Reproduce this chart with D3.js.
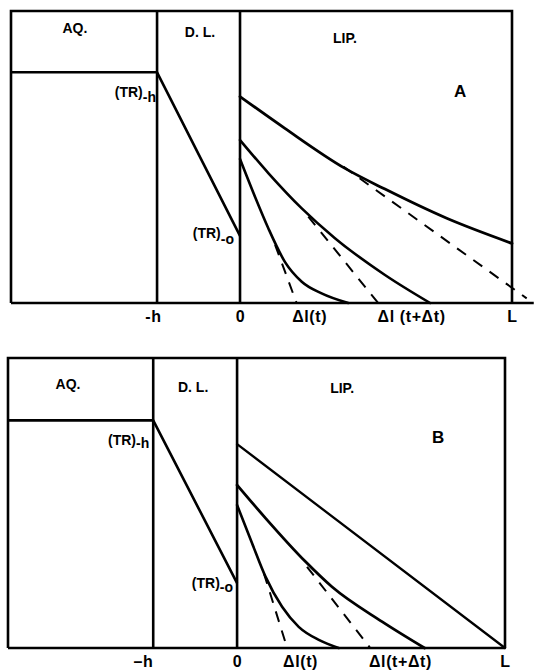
<!DOCTYPE html>
<html>
<head>
<meta charset="utf-8">
<script src="https://cdn.jsdelivr.net/npm/d3@7"></script>
<style>
  html, body { margin: 0; padding: 0; background: #fff; }
  svg { display: block; }
  text { font-family: "Liberation Sans", Arial, Helvetica, sans-serif; font-weight: bold; fill: #000; }
</style>
</head>
<body>
<svg id="chart" width="534" height="672"></svg>
<script>
// Concentration profiles across aqueous phase (AQ.), diffusion layer (D. L.)
// and lipid phase (LIP.). x: depth, 0 = interface, L = membrane thickness (=1).
// y: relative concentration (0 = bottom of frame, 1 = top of frame).

// ---- zone boundaries (x) ----
const zonesA = [-0.842, -0.305, 0, 1];
const zonesB = [-0.855, -0.313, 0, 1];

// ---- aqueous bulk level and diffusion-layer profile ----
const aqLevelA = 0.79,  trZeroA = 0.23;
const aqLevelB = 0.785, trZeroB = 0.224;

// ---- panel A: lipid-phase profiles at three times ----
const a_profile1 = [[0, 0.707], [0.165, 0.598], [0.386, 0.461], [0.533, 0.390], [0.760, 0.290], [1, 0.204]];
const a_profile2 = [[0, 0.558], [0.104, 0.445], [0.227, 0.324], [0.349, 0.222], [0.533, 0.096], [0.699, 0]];
const a_profile3 = [[0, 0.493], [0.055, 0.364], [0.104, 0.256], [0.165, 0.141], [0.227, 0.073], [0.300, 0.033], [0.398, 0]];
// tangents (dashed)
const a_tangent1 = [[0.380, 0.467], [1.054, 0.016]];
const a_tangent2 = [[0.251, 0.296], [0.508, 0]];
const a_tangent3 = [[0.129, 0.199], [0.208, 0]];

// ---- panel B ----
const b_profile1 = [[0, 0.703], [1, 0]];
const b_profile2 = [[0, 0.562], [0.106, 0.448], [0.255, 0.298], [0.354, 0.211], [0.541, 0.091], [0.700, 0]];
const b_profile3 = [[0, 0.493], [0.056, 0.361], [0.106, 0.246], [0.168, 0.142], [0.230, 0.073], [0.305, 0.028], [0.379, 0]];
const b_tangent2 = [[0.261, 0.280], [0.497, 0]];
const b_tangent3 = [[0.100, 0.258], [0.187, 0]];

// ---- axis tick labels ----
const ticksA = [-0.32, 0, 0.254, 0.629, 1.0];
const tickLabelsA = ["-h", "0", "Δl(t)", "Δl (t+Δt)", "L"];
const ticksB = [-0.351, 0, 0.235, 0.608, 1.0];
const tickLabelsB = ["–h", "0", "Δl(t)", "Δl(t+Δt)", "L"];

const svg = d3.select("#chart");

function drawPanel(cfg) {
  const g = svg.append("g");
  const x = d3.scaleLinear().domain([cfg.zones[0], cfg.zones[3]]).range([cfg.left, cfg.right]);
  const y = d3.scaleLinear().domain([0, 1]).range([cfg.bottom, cfg.top]);
  const line = d3.line().x(d => x(d[0])).y(d => y(d[1])).curve(d3.curveMonotoneX);
  const straight = d3.line().x(d => x(d[0])).y(d => y(d[1]));
  const [xl, xh, x0, xL] = cfg.zones;

  const frame = g.append("g").attr("stroke", "#000").attr("stroke-width", 2.6).attr("fill", "none");
  // outer frame
  frame.append("path").attr("d", straight([[xl, 0], [xl, 1], [xL, 1], [xL, 0]]));
  frame.append("path").attr("d", straight([[xl, 0], [cfg.baseEnd, 0]]));
  // zone dividers
  frame.append("path").attr("d", straight([[xh, 0], [xh, 1]]));
  frame.append("path").attr("d", straight([[x0, 0], [x0, 1]]));

  // aqueous level and linear drop across diffusion layer
  const prof = g.append("g").attr("stroke", "#000").attr("fill", "none").attr("stroke-linejoin", "round");
  prof.append("path").attr("stroke-width", 2.6).attr("d", straight([[xl, cfg.aq], [xh, cfg.aq], [x0, cfg.tr0]]));

  cfg.profiles.forEach((p, i) => {
    prof.append("path").attr("stroke-width", cfg.widths[i]).attr("stroke-linecap", "round").attr("d", line(p));
  });
  cfg.tangents.forEach(t => {
    prof.append("path").attr("stroke-width", 2).attr("stroke-dasharray", "11,9").attr("d", straight(t));
  });

  // bottom axis labels
  const axis = d3.axisBottom(x).tickValues(cfg.ticks).tickFormat((d, i) => cfg.tickLabels[i])
    .tickSize(0).tickPadding(8);
  const ax = g.append("g").attr("transform", `translate(0,${cfg.bottom})`).call(axis);
  ax.select(".domain").remove();
  ax.selectAll("text").attr("font-size", 16).attr("font-family", "'Liberation Sans', Arial, sans-serif")
    .attr("font-weight", "bold").attr("fill", "#000").attr("letter-spacing", "0.6px");

  // zone and curve labels
  const lab = g.append("g").attr("font-size", 14);
  cfg.labels.forEach(l => {
    lab.append("text").attr("x", x(l.x)).attr("y", y(l.y)).attr("text-anchor", "middle")
      .attr("font-size", l.size || 14).text(l.t);
  });
  cfg.trLabels.forEach(l => {
    const t = lab.append("text").attr("x", x(l.x)).attr("y", y(l.y)).attr("text-anchor", "end");
    t.append("tspan").text("(TR)");
    t.append("tspan").attr("dy", l.dy).text(l.sub);
  });
}

drawPanel({
  zones: zonesA, left: 11, right: 512, top: 11, bottom: 303, baseEnd: 1.08,
  aq: aqLevelA, tr0: trZeroA,
  profiles: [a_profile1, a_profile2, a_profile3], widths: [2.8, 2.6, 2.6],
  tangents: [a_tangent1, a_tangent2, a_tangent3],
  ticks: ticksA, tickLabels: tickLabelsA,
  labels: [
    { t: "AQ.", x: -0.607, y: 0.925 },
    { t: "D. L.", x: -0.147, y: 0.911 },
    { t: "LIP.", x: 0.386, y: 0.890 },
    { t: "A", x: 0.809, y: 0.705, size: 17 }
  ],
  trLabels: [
    { x: -0.309, y: 0.705, sub: "-h", dy: 5 },
    { x: -0.022, y: 0.223, sub: "-o", dy: 6 }
  ]
});

drawPanel({
  zones: zonesB, left: 8, right: 505, top: 358, bottom: 648, baseEnd: 1.0,
  aq: aqLevelB, tr0: trZeroB,
  profiles: [b_profile1, b_profile2, b_profile3], widths: [2.3, 2.8, 2.6],
  tangents: [b_tangent2, b_tangent3],
  ticks: ticksB, tickLabels: tickLabelsB,
  labels: [
    { t: "AQ.", x: -0.631, y: 0.893 },
    { t: "D. L.", x: -0.164, y: 0.883 },
    { t: "LIP.", x: 0.392, y: 0.879 },
    { t: "B", x: 0.75, y: 0.707, size: 17 }
  ],
  trLabels: [
    { x: -0.328, y: 0.70, sub: "-h", dy: 3 },
    { x: -0.015, y: 0.207, sub: "-o", dy: 4 }
  ]
});
</script>
</body>
</html>
